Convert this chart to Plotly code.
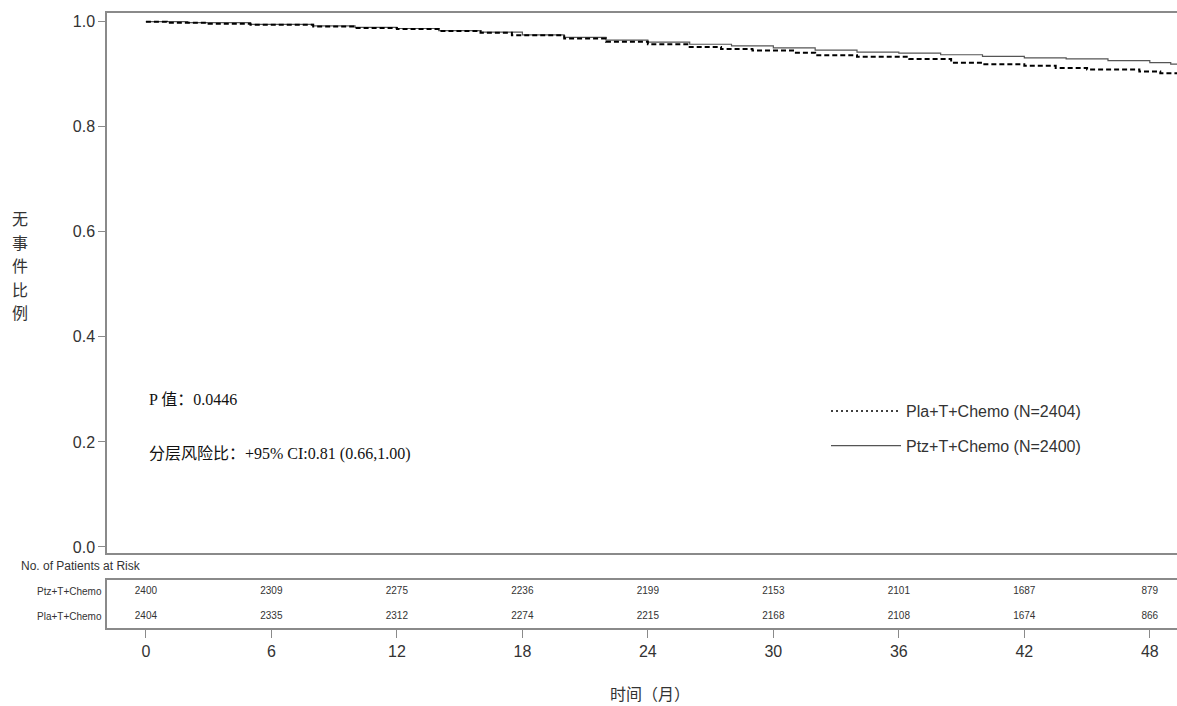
import plotly.graph_objects as go

# ---- data ----
pla_t = [0, 1, 3, 5, 8, 10, 12, 14, 16, 17.5, 20, 22, 24, 26, 27.5, 29, 31, 32, 34, 36.5, 38.5, 40, 42, 43.5, 45, 47.5, 48.5, 49.3]
pla_s = [1.000, 0.998, 0.996, 0.994, 0.991, 0.988, 0.986, 0.982, 0.979, 0.974, 0.968, 0.962, 0.957, 0.952, 0.948, 0.945, 0.941, 0.936, 0.933, 0.929, 0.922, 0.919, 0.916, 0.912, 0.909, 0.905, 0.902, 0.902]
ptz_t = [0, 2, 5, 8, 10, 12, 14, 16, 18, 20, 22, 24, 26, 28, 30, 32, 34, 36, 38, 40, 42, 44, 46, 48, 49, 49.3]
ptz_s = [1.000, 0.998, 0.995, 0.992, 0.989, 0.987, 0.983, 0.980, 0.975, 0.970, 0.965, 0.961, 0.957, 0.954, 0.950, 0.946, 0.942, 0.940, 0.937, 0.934, 0.931, 0.929, 0.926, 0.922, 0.919, 0.919]

risk_times = [0, 6, 12, 18, 24, 30, 36, 42, 48]
risk_ptz = [2400, 2309, 2275, 2236, 2199, 2153, 2101, 1687, 879]
risk_pla = [2404, 2335, 2312, 2274, 2215, 2168, 2108, 1674, 866]

y_ticks = [0.0, 0.2, 0.4, 0.6, 0.8, 1.0]
y_tick_labels = ["0.0", "0.2", "0.4", "0.6", "0.8", "1.0"]

y_title_chars = ["无", "事", "件", "比", "例"]

pla_name = "Pla+T+Chemo (N=2404)"
ptz_name = "Ptz+T+Chemo (N=2400)"

W, H = 1177, 706
L, R, T, B = 107, 0, 13, 78
plot_w = W - L - R
plot_h = H - T - B
main_bottom_px = 553
risk_top_px = 580
main_dom = [(H - B - main_bottom_px) / plot_h, 1.0]
risk_dom = [0.0, (H - B - risk_top_px) / plot_h]


def px_x(px):
    return (px - L) / plot_w


def px_y(py):
    return (H - B - py) / plot_h


AX = "#8a8a8a"
TXT = "#333333"
SANS = "Arial, Liberation Sans, sans-serif"
SERIF = "Times New Roman, Liberation Serif, Noto Sans CJK SC, serif"
CJK = "Noto Sans CJK SC"

fig = go.Figure()

# KM curves
fig.add_trace(go.Scatter(x=ptz_t, y=ptz_s, mode="lines", line_shape="hv",
                         line=dict(color="#555555", width=1.2), showlegend=False,
                         xaxis="x", yaxis="y"))
fig.add_trace(go.Scatter(x=pla_t, y=pla_s, mode="lines", line_shape="hv",
                         line=dict(color="#000000", width=2, dash="5px,3px"), showlegend=False,
                         xaxis="x", yaxis="y"))
# legend entries
fig.add_trace(go.Scatter(x=[None], y=[None], mode="lines", name=pla_name, legendgroup="a",
                         line=dict(color="#000000", width=1.5, dash="2px,3px"), xaxis="x", yaxis="y"))
fig.add_trace(go.Scatter(x=[None], y=[None], mode="lines", name=ptz_name, legendgroup="b",
                         line=dict(color="#555555", width=1.2), xaxis="x", yaxis="y"))

# risk table numbers
fig.add_trace(go.Scatter(x=risk_times, y=[0.77] * len(risk_times), mode="text",
                         text=[str(v) for v in risk_ptz], textfont=dict(size=10, color=TXT, family=SANS),
                         showlegend=False, xaxis="x2", yaxis="y2", hoverinfo="skip"))
fig.add_trace(go.Scatter(x=risk_times, y=[0.25] * len(risk_times), mode="text",
                         text=[str(v) for v in risk_pla], textfont=dict(size=10, color=TXT, family=SANS),
                         showlegend=False, xaxis="x2", yaxis="y2", hoverinfo="skip"))

xr = [-1.86, 49.3]
fig.update_layout(
    width=W, height=H,
    margin=dict(l=L, r=R, t=T, b=B),
    paper_bgcolor="white", plot_bgcolor="white",
    font=dict(family=SANS, color=TXT),
    xaxis=dict(domain=[0, 1], range=xr, anchor="y", showgrid=False, zeroline=False,
               showline=True, linecolor=AX, linewidth=1.5, mirror=True,
               showticklabels=False, ticks="", tickvals=risk_times),
    yaxis=dict(domain=main_dom, range=[-0.0115, 1.0165], anchor="x", showgrid=False, zeroline=False,
               showline=True, linecolor=AX, linewidth=1.5, mirror=False,
               tickvals=y_ticks, ticktext=y_tick_labels, ticks="outside", ticklen=7,
               tickcolor=AX, tickfont=dict(size=16, color=TXT, family=SANS)),
    xaxis2=dict(domain=[0, 1], range=xr, anchor="y2", showgrid=False, zeroline=False,
                showline=True, linecolor=AX, linewidth=1.5, mirror=True,
                tickvals=risk_times, ticktext=[str(t) for t in risk_times],
                ticks="outside", ticklen=8, tickcolor=AX,
                tickfont=dict(size=16, color=TXT, family=SANS)),
    yaxis2=dict(domain=risk_dom, range=[0, 1], anchor="x2", showgrid=False, zeroline=False,
                showline=True, linecolor=AX, linewidth=1.5, mirror=False,
                showticklabels=False, ticks=""),
    legend=dict(x=px_x(826), y=px_y(394), xanchor="left", yanchor="top",
                font=dict(size=16, color=TXT, family=SANS), bgcolor="rgba(0,0,0,0)",
                tracegroupgap=11, itemwidth=70),
    showlegend=True,
)

ann = []
for i, ch in enumerate(y_title_chars):
    ann.append(dict(text=ch, xref="paper", yref="paper",
                    x=px_x(20), y=px_y(218 + 23.5 * i), xanchor="center", yanchor="middle",
                    showarrow=False, font=dict(size=16, color=TXT, family=CJK)))
ann.append(dict(text="P 值：0.0446", xref="paper", yref="paper",
                x=px_x(147), y=px_y(399), xanchor="left", yanchor="middle",
                showarrow=False, font=dict(size=16, color="#111111", family=SERIF)))
ann.append(dict(text="分层风险比：+95% CI:0.81 (0.66,1.00)", xref="paper", yref="paper",
                x=px_x(147), y=px_y(454), xanchor="left", yanchor="middle",
                showarrow=False, font=dict(size=16, color="#111111", family=SERIF)))
ann.append(dict(text="No. of Patients at Risk", xref="paper", yref="paper",
                x=px_x(19), y=px_y(566), xanchor="left", yanchor="middle",
                showarrow=False, font=dict(size=12, color=TXT, family=SANS)))
ann.append(dict(text="Ptz+T+Chemo", xref="paper", yref="y2", x=0, xshift=-3, y=0.77,
                xanchor="right", yanchor="middle", showarrow=False,
                font=dict(size=10, color=TXT, family=SANS)))
ann.append(dict(text="Pla+T+Chemo", xref="paper", yref="y2", x=0, xshift=-3, y=0.25,
                xanchor="right", yanchor="middle", showarrow=False,
                font=dict(size=10, color=TXT, family=SANS)))
ann.append(dict(text="时间（月）", xref="paper", yref="paper",
                x=px_x(650), y=px_y(693), xanchor="center", yanchor="middle",
                showarrow=False, font=dict(size=16, color=TXT, family=CJK)))
fig.update_layout(annotations=ann)

fig.write_html("out.html", config={"displayModeBar": False},
               post_script="document.body.style.margin='0';document.body.style.overflow='hidden';")
